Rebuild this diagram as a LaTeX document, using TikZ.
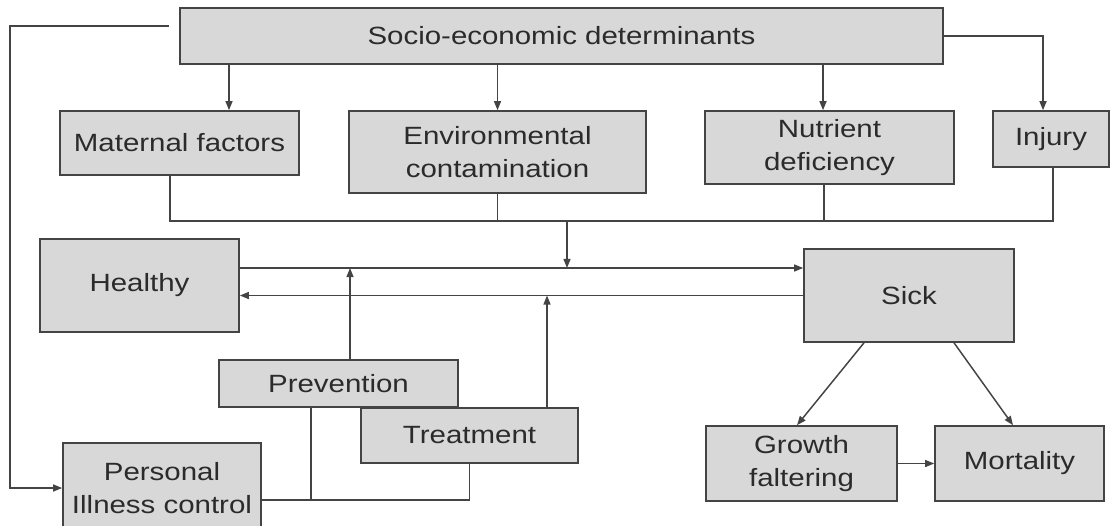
\documentclass[tikz,border=0pt]{standalone}
\usepackage{fontspec}
\setmainfont{Liberation Sans}[FakeStretch=1.18]
\usepackage{xcolor}
\usepackage{tikz}
\usetikzlibrary{arrows.meta,positioning}
\definecolor{boxgray}{HTML}{D8D8D8}
\definecolor{linegray}{HTML}{444444}
\definecolor{textgray}{HTML}{2B2B2B}

\begin{document}
\begin{tikzpicture}
[box/.style={rectangle,draw=linegray,line width=0.45pt,fill=boxgray,text=textgray,inner sep=0pt,align=center,font=\fontsize{7.1}{9.5}\selectfont},
 link/.style={draw=linegray,line width=0.42pt},
 arr/.style={link,-{Triangle[length=2.6pt,width=2pt]}}];
\useasboundingbox (0,0) rectangle (11.15,-5.25);
\clip (0,0) rectangle (11.15,-5.25);

\node[box,minimum width=7.63cm,minimum height=0.56cm] (socio) at (5.615,-0.36) {Socio-economic determinants};
\node[box,minimum width=2.39cm,minimum height=0.64cm] (maternal) at (1.795,-1.43) {Maternal factors};
\node[box,minimum width=2.97cm,minimum height=0.82cm] (environ) at (4.975,-1.52) {Environmental\\contamination};
\node[box,minimum width=2.49cm,minimum height=0.73cm] (nutrient) at (8.295,-1.475) {Nutrient\\deficiency};
\node[box,minimum width=1.16cm,minimum height=0.56cm] (injury) at (10.51,-1.39) {Injury};
\node[box,minimum width=1.99cm,minimum height=0.93cm] (healthy) at (1.395,-2.855) {Healthy};
\node[box,minimum width=2.10cm,minimum height=0.93cm] (sick) at (9.09,-2.955) {Sick};
\node[box,minimum width=2.39cm,minimum height=0.47cm] (prevention) at (3.385,-3.835) {Prevention};
\node[box,minimum width=2.17cm,minimum height=0.55cm] (treatment) at (4.695,-4.355) {Treatment};
\node[box,minimum width=1.98cm,minimum height=0.90cm] (personal) at (1.62,-4.88) {Personal\\Illness control};
\node[box,minimum width=1.91cm,minimum height=0.75cm] (growth) at (8.015,-4.635) {Growth\\faltering};
\node[box,minimum width=1.69cm,minimum height=0.75cm] (mortality) at (10.195,-4.635) {Mortality};

% determinants
\draw[arr] ([xshift=0.495cm]maternal.north |- socio.south) -- ([xshift=0.495cm]maternal.north);
\draw[arr] (environ.north |- socio.south) -- (environ.north);
\draw[arr] ([xshift=-0.065cm]nutrient.north |- socio.south) -- ([xshift=-0.065cm]nutrient.north);
\draw[arr] (socio.east) -| ([xshift=-0.08cm]injury.north);

\coordinate (bus) at (5.67,-2.21);
\draw[link] ([xshift=-0.095cm]maternal.south) |- (bus) -| ([xshift=0.02cm]injury.south);
\draw[link] (environ.south) -- (environ.south |- bus);
\draw[link] ([xshift=-0.055cm]nutrient.south) -- ([xshift=-0.055cm]nutrient.south |- bus);

% healthy <-> sick
\coordinate (hs) at ([yshift=0.175cm]healthy.east);
\draw[arr] (hs) -- (hs -| sick.west);
\draw[arr] (sick.west) -- (sick.west -| healthy.east);
\draw[arr] (bus) -- (bus |- hs);
\draw[arr] ([xshift=0.115cm]prevention.north) -- ([xshift=0.115cm]prevention.north |- hs);
\draw[arr] ([xshift=0.775cm]treatment.north) -- ([xshift=0.775cm]treatment.north |- sick.west);

% personal illness control
\coordinate (pc) at ([yshift=-0.12cm]personal.east);
\draw[link] (pc) -| (treatment.south);
\draw[link] ([xshift=-0.275cm]prevention.south) -- ([xshift=-0.275cm]prevention.south |- pc);
\draw[arr,shorten <=0.1cm] ([yshift=0.1cm]socio.west) -- ++(-1.69,0) |- (personal.west);

% outcomes
\draw[arr] ([xshift=-0.45cm]sick.south) -- ([xshift=-0.045cm]growth.north);
\draw[arr] ([xshift=0.45cm]sick.south) -- ([xshift=-0.065cm]mortality.north);
\draw[arr] (growth.east) -- (mortality.west);
\end{tikzpicture}
\end{document}
